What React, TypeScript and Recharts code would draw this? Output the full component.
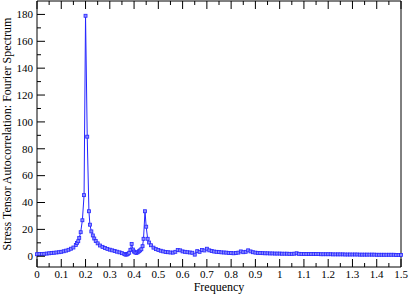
import React from 'react';
import { LineChart, Line, XAxis, YAxis } from 'recharts';

// frequency grid (denser around the two peaks)
const freq = [
  0, 0.01, 0.02, 0.03, 0.04, 0.05, 0.06, 0.07, 0.08, 0.09, 0.1, 0.11, 0.12, 0.13, 0.14, 0.15, 0.16,
  0.165, 0.17, 0.174, 0.18, 0.187, 0.194, 0.2, 0.207, 0.214, 0.218, 0.224, 0.23, 0.236, 0.242, 0.25,
  0.26, 0.27, 0.28, 0.29, 0.3, 0.31, 0.32, 0.33, 0.34, 0.35, 0.36, 0.365, 0.37, 0.375, 0.38, 0.385,
  0.39, 0.395, 0.4, 0.405, 0.41, 0.415, 0.42, 0.425, 0.43, 0.435, 0.439, 0.445, 0.45, 0.456, 0.462,
  0.47, 0.48, 0.49,
  0.5, 0.51, 0.52, 0.53, 0.54, 0.55, 0.56, 0.57, 0.58, 0.59, 0.6, 0.61, 0.62, 0.63, 0.64, 0.65, 0.66,
  0.67, 0.68, 0.69, 0.7, 0.71, 0.72, 0.73, 0.74, 0.75, 0.76, 0.77, 0.78, 0.79, 0.8, 0.81, 0.82, 0.83,
  0.84, 0.85, 0.86, 0.87, 0.88, 0.89, 0.9, 0.91, 0.92, 0.93, 0.94, 0.95, 0.96, 0.97, 0.98, 0.99, 1.0,
  1.01, 1.02, 1.03, 1.04, 1.05, 1.06, 1.07, 1.08, 1.09, 1.1, 1.11, 1.12, 1.13, 1.14, 1.15, 1.16, 1.17,
  1.18, 1.19, 1.2, 1.21, 1.22, 1.23, 1.24, 1.25, 1.26, 1.27, 1.28, 1.29, 1.3, 1.31, 1.32, 1.33, 1.34,
  1.35, 1.36, 1.37, 1.38, 1.39, 1.4, 1.41, 1.42, 1.43, 1.44, 1.45, 1.46, 1.47, 1.48, 1.49, 1.5,
];

const spectrum = [
  1.5, 1.6, 1.7, 1.8, 2.0, 2.2, 2.4, 2.6, 2.8, 3.0, 3.3, 3.7, 4.2, 4.8, 5.6, 6.5, 8.4,
  9.8, 11.2, 13.7, 17.9, 26.8, 45.5, 179, 89, 33.5, 23.5, 18.5, 15.5, 13.2, 11.3, 9.6,
  8.0, 7.0, 6.2, 5.5, 4.9, 4.4, 3.9, 3.4, 2.9, 2.3, 1.6, 1.2, 1.3, 1.8, 2.6, 4.8,
  9.2, 5.0, 3.5, 2.8, 2.5, 3.0, 3.7, 4.4, 5.2, 7.5, 13.0, 33.5, 22.0, 13.0, 10.2,
  8.2, 6.4, 5.3,
  4.6, 4.1, 3.6, 3.2, 3.0, 2.8, 2.7, 3.3, 4.6, 4.4, 3.6, 3.3, 3.0, 2.8, 2.6, 1.2, 3.8,
  3.3, 4.6, 4.3, 5.6, 4.4, 3.9, 3.5, 3.3, 3.1, 2.9, 2.8, 2.7, 2.5, 2.4, 2.2, 2.4, 2.7,
  3.6, 3.0, 3.3, 4.4, 3.6, 3.0, 2.7, 2.5, 2.4, 2.3, 2.2, 2.2, 2.1, 2.1, 2.0, 2.0, 2.0,
  1.9, 1.9, 1.9, 1.8, 1.8, 1.9, 2.2, 1.8, 1.7, 1.7, 1.7, 1.6, 1.6, 1.7, 1.6, 1.6, 1.5,
  1.5, 1.5, 1.5, 1.5, 1.4, 1.4, 1.4, 1.4, 1.4, 1.3, 1.3, 1.3, 1.3, 1.3, 1.3, 1.2, 1.2,
  1.2, 1.2, 1.2, 1.2, 1.2, 1.1, 1.1, 1.1, 1.1, 1.1, 1.1, 1.1, 1.1, 1.0, 1.0, 1.0,
];

const xTicks = [
  0, 0.05, 0.1, 0.15, 0.2, 0.25, 0.3, 0.35, 0.4, 0.45, 0.5, 0.55, 0.6, 0.65, 0.7, 0.75,
  0.8, 0.85, 0.9, 0.95, 1, 1.05, 1.1, 1.15, 1.2, 1.25, 1.3, 1.35, 1.4, 1.45, 1.5,
];
const yTicks = [0, 10, 20, 30, 40, 50, 60, 70, 80, 90, 100, 110, 120, 130, 140, 150, 160, 170, 180];

const data = freq.map((f, i) => ({ f, s: spectrum[i] }));

const FONT = '"Liberation Serif", "Times New Roman", "DejaVu Serif", serif';
const AXIS = '#000';
const BLUE = '#2424ff';

const isMajorX = (v: number) => Math.round(v * 100) % 10 === 0;
const isMajorY = (v: number) => v % 20 === 0;

// inward ticks, drawn by hand (labels only on bottom / left)
const BottomTick = ({ x, y, payload }: any) => {
  const major = isMajorX(payload.value);
  return (
    <g>
      <line x1={x} x2={x} y1={y} y2={y - (major ? 8 : 4)} stroke={AXIS} />
      {major && (
        <text x={x} y={y + 11} textAnchor="middle" fontSize={11} style={{ fontFamily: FONT }} fill="#000">
          {payload.value}
        </text>
      )}
    </g>
  );
};

const TopTick = ({ x, y, payload }: any) => {
  const major = isMajorX(payload.value);
  return <line x1={x} x2={x} y1={y} y2={y + (major ? 8 : 4)} stroke={AXIS} />;
};

const LeftTick = ({ x, y, payload }: any) => {
  const major = isMajorY(payload.value);
  return (
    <g>
      <line x1={x} x2={x + (major ? 8 : 4)} y1={y} y2={y} stroke={AXIS} />
      {major && (
        <text x={x - 4} y={y} dy="0.35em" textAnchor="end" fontSize={11} style={{ fontFamily: FONT }} fill="#000">
          {payload.value}
        </text>
      )}
    </g>
  );
};

const RightTick = ({ x, y, payload }: any) => {
  const major = isMajorY(payload.value);
  return <line x1={x} x2={x - (major ? 8 : 4)} y1={y} y2={y} stroke={AXIS} />;
};

const SquareDot = ({ cx, cy }: any) => {
  if (cx == null || cy == null) return null;
  return <rect x={cx - 1.5} y={cy - 1.5} width={3} height={3} fill="#8c8cff" stroke={BLUE} strokeWidth={0.8} />;
};

export default function App() {
  return (
    <div style={{ position: 'absolute', left: 0, top: 0, width: 409, height: 295, background: '#fff', fontFamily: FONT }}>
      <LineChart width={409} height={295} data={data} margin={{ top: 0, right: 7, left: 0, bottom: 0 }}>
        <XAxis
          xAxisId="b"
          dataKey="f"
          type="number"
          domain={[0, 1.5]}
          ticks={xTicks}
          interval={0}
          height={28}
          tickSize={0}
          tickMargin={0}
          tickLine={false}
          axisLine={{ stroke: AXIS }}
          tick={<BottomTick />}
          label={{
            content: ({ viewBox }: any) => (
              <text
                x={viewBox.x + viewBox.width / 2}
                y={291}
                textAnchor="middle"
                fontSize={12}
                style={{ fontFamily: FONT }}
                fill="#000"
              >
                Frequency
              </text>
            ),
          }}
        />
        <XAxis
          xAxisId="t"
          orientation="top"
          dataKey="f"
          type="number"
          domain={[0, 1.5]}
          ticks={xTicks}
          interval={0}
          height={1}
          tickSize={0}
          tickMargin={0}
          tickLine={false}
          axisLine={{ stroke: AXIS }}
          tick={<TopTick />}
        />
        <YAxis
          yAxisId="l"
          type="number"
          domain={[-8, 190]}
          ticks={yTicks}
          interval={0}
          width={37}
          tickSize={0}
          tickMargin={0}
          tickLine={false}
          axisLine={{ stroke: AXIS }}
          tick={<LeftTick />}
          label={{
            content: ({ viewBox }: any) => {
              const cy = viewBox.y + viewBox.height / 2;
              return (
                <text
                  x={11}
                  y={cy}
                  transform={`rotate(-90, 11, ${cy})`}
                  textAnchor="middle"
                  fontSize={12}
                  style={{ fontFamily: FONT }}
                  fill="#000"
                >
                  Stress Tensor Autocorrelation: Fourier Spectrum
                </text>
              );
            },
          }}
        />
        <YAxis
          yAxisId="r"
          orientation="right"
          type="number"
          domain={[-8, 190]}
          ticks={yTicks}
          interval={0}
          width={1}
          tickSize={0}
          tickMargin={0}
          tickLine={false}
          axisLine={{ stroke: AXIS }}
          tick={<RightTick />}
        />
        <Line
          xAxisId="b"
          yAxisId="l"
          type="linear"
          dataKey="s"
          stroke={BLUE}
          strokeWidth={1}
          dot={<SquareDot />}
          activeDot={false}
          isAnimationActive={false}
        />
      </LineChart>
    </div>
  );
}
